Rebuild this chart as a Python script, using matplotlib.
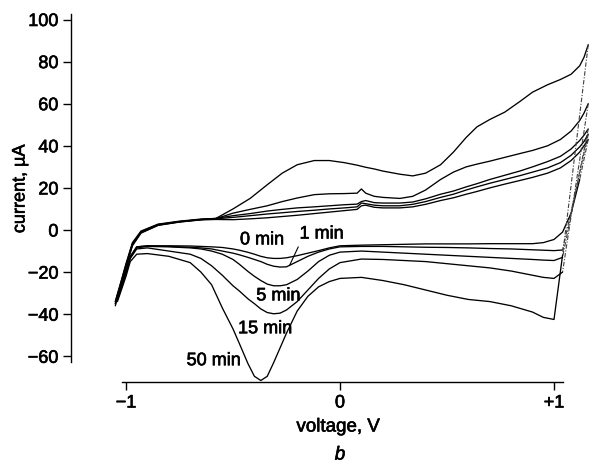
import numpy as np
import matplotlib
matplotlib.use("Agg")
import matplotlib.pyplot as plt
import matplotlib.patheffects as pe

plt.rcParams['font.family'] = ['Liberation Sans', 'DejaVu Sans']

# ---------------- data ----------------
# anodic (forward) scan voltages, V
v_anodic = [-1.05, -1.03, -1.0, -0.97, -0.93, -0.85, -0.75, -0.65, -0.58, -0.5,
            -0.42, -0.34, -0.27, -0.2, -0.12, -0.05, 0.02, 0.08, 0.1, 0.12,
            0.16, 0.2, 0.28, 0.34, 0.4, 0.47, 0.53, 0.59, 0.64, 0.7,
            0.77, 0.84, 0.9, 0.97, 1.03, 1.08, 1.12, 1.14, 1.16]

i_anodic_0min = [-35, -28, -17, -7, -1.2, 2.3, 3.8, 4.8, 5.0, 4.9,
                 5.3, 5.8, 6.4, 7.0, 7.8, 8.5, 9.2, 9.8, 11.5, 11.8,
                 10.8, 10.5, 10.5, 11.0, 12.2, 14.0, 15.3, 17.0, 18.3, 20.0,
                 21.8, 23.5, 25.0, 27.0, 29.5, 33.0, 37.0, 40.0, 43.0]
i_anodic_1min = [-34, -27, -16.5, -6.5, -0.8, 2.6, 4.0, 5.0, 5.3, 6.0,
                 6.8, 7.6, 8.2, 8.8, 9.4, 10.0, 10.5, 11.0, 12.8, 12.5,
                 11.8, 11.5, 11.5, 12.2, 13.5, 15.5, 17.0, 19.0, 20.5, 22.2,
                 24.0, 25.8, 27.5, 29.5, 32.0, 35.5, 39.5, 42.0, 45.5]
i_anodic_5min = [-34, -27, -16, -6, -0.5, 2.8, 4.2, 5.2, 5.5, 6.8,
                 7.8, 9.0, 9.8, 10.5, 11.0, 11.5, 12.0, 12.3, 13.5, 14.0,
                 13.0, 12.8, 12.8, 13.3, 14.8, 17.0, 18.5, 20.5, 22.0, 24.0,
                 26.0, 28.0, 30.0, 32.5, 35.0, 38.5, 42.5, 45.0, 48.0]
i_anodic_15min = [-35, -28, -17, -7, -1.0, 2.5, 4.0, 5.0, 5.4, 8.0,
                  9.8, 11.5, 13.5, 15.2, 16.8, 17.2, 17.3, 17.5, 19.5, 17.5,
                  16.0, 15.5, 15.0, 16.0, 19.0, 24.0, 27.5, 30.0, 31.3, 32.7,
                  34.5, 36.3, 37.8, 40.0, 43.0, 47.0, 52.0, 55.5, 60.0]
i_anodic_50min = [-36, -29, -17.5, -7.5, -1.5, 2.2, 3.8, 4.9, 5.5, 10.0,
                  15.0, 21.5, 27.0, 31.0, 33.0, 33.0, 32.0, 30.8, 30.3, 29.8,
                  29.0, 28.0, 26.5, 25.7, 27.0, 31.0, 37.0, 44.0, 49.0, 52.5,
                  56.0, 61.0, 65.5, 69.0, 71.5, 74.0, 78.0, 82.0, 88.0]

# cathodic (reverse) scan voltages, V
v_cathodic = [1.12, 1.08, 1.04, 1.0, 0.95, 0.9, 0.8, 0.7, 0.6, 0.5,
              0.4, 0.3, 0.2, 0.1, 0.0, -0.05, -0.1, -0.15, -0.2, -0.25,
              -0.28, -0.31, -0.34, -0.37, -0.4, -0.43, -0.47, -0.5, -0.55, -0.6,
              -0.65, -0.7, -0.8, -0.9, -0.95, -0.98, -1.0, -1.02, -1.04]

nan = float('nan')
i_cathodic_0min = [24, 8, -1, -4.5, -6, -6.5, -6.5, -6.5, -6.6, -6.6,
                   -6.6, -6.8, -7.0, -7.2, -7.5, -8.5, -9.8, -11, -12.2, -13.2,
                   -13.5, -13.5, -13.2, -12.5, -11.5, -10.6, -9.6, -9, -8.3, -8,
                   -7.8, -7.6, -7.5, -7.5, -8, -13, -20, -26, -32]
i_cathodic_1min = [nan, nan, -9.5, -9.8, -9.6, -9.4, -9.0, -8.8, -8.5, -8.3,
                   -8.2, -8.0, -7.8, -7.8, -8.0, -9.0, -10.5, -12.5, -15, -17.5,
                   -17.6, -17.2, -16.3, -15, -14, -13, -11.8, -11, -10, -9,
                   -8.5, -8.2, -7.8, -7.6, -8, -12.5, -19.5, -26, -32]
i_cathodic_5min = [nan, nan, -13, -14.5, -14.3, -14, -13.5, -13, -12.5, -12,
                   -11.5, -11, -10.5, -10, -10.5, -12, -15, -19.5, -23.5, -26,
                   -26.5, -26.5, -25.7, -24, -22, -19.7, -16.3, -14, -11.5, -10,
                   -9, -8.5, -8, -7.8, -8.5, -13, -20, -27, -33]
i_cathodic_15min = [nan, nan, -20, -23, -22.5, -21.5, -19.5, -18, -17, -16,
                    -15, -14.5, -14, -13.8, -15.5, -18.5, -23, -28.5, -34, -38,
                    -39.5, -39.8, -39.2, -37.5, -35, -32.7, -29, -26.5, -21.5, -17,
                    -13.5, -11.5, -10, -8.5, -9, -13.5, -20.5, -27, -33]
i_cathodic_50min = [nan, nan, -12, -42.5, -41.5, -39, -36, -34, -33, -31,
                    -28.5, -26, -24, -22.5, -23, -24.5, -27, -31.5, -38.5, -49,
                    -56, -63, -69.5, -71.5, -69.5, -63.5, -54, -47, -37, -26,
                    -20, -15.5, -12.5, -11.2, -11.5, -15, -22, -28, -34]

curve_names = ["0 min", "1 min", "5 min", "15 min", "50 min"]
anodic = [i_anodic_0min, i_anodic_1min, i_anodic_5min, i_anodic_15min, i_anodic_50min]
cathodic = [i_cathodic_0min, i_cathodic_1min, i_cathodic_5min, i_cathodic_15min, i_cathodic_50min]

x_ticks = [-1, 0, 1]
x_ticklabels = ["\u22121", "0", "+1"]
y_ticks = [-60, -40, -20, 0, 20, 40, 60, 80, 100]
y_ticklabels = ["\u221260", "\u221240", "\u221220", "0", "20", "40", "60", "80", "100"]

# label anchor positions (voltage, current)
label_pos = {"0 min": (-0.364, -4.7), "1 min": (-0.086, -1.9), "5 min": (-0.288, -31.3),
             "15 min": (-0.35, -46.9), "50 min": (-0.59, -62.1)}

# ---------------- figure ----------------
W, H = 589, 464
fig = plt.figure(figsize=(W / 100, H / 100), dpi=100)
ax_left, ax_right, ax_top, ax_bottom = 71, 589, 10, 383
ax = fig.add_axes([ax_left / W, (H - ax_bottom) / H,
                   (ax_right - ax_left) / W, (ax_bottom - ax_top) / H])

x0, sx = 340.0, 214.0
y0, sy = 231.0, 2.105
ax.set_xlim((ax_left - x0) / sx, (ax_right - x0) / sx)
ax.set_ylim((y0 - ax_bottom) / sy, (y0 - ax_top) / sy)

for ia, ic in zip(anodic, cathodic):
    ax.plot(v_anodic, ia, color='black', lw=0.95, clip_on=False,
            solid_joinstyle='round', solid_capstyle='round')
    ax.plot(v_cathodic, ic, color='black', lw=0.95, clip_on=False,
            solid_joinstyle='round', solid_capstyle='round')
    # reversal segment: last anodic point -> first valid cathodic point
    k = next(j for j, val in enumerate(ic) if not np.isnan(val))
    ax.plot([v_anodic[-1], v_cathodic[k]], [ia[-1], ic[k]], color='0.25', lw=0.8,
            ls=(0, (4, 1.5, 1, 1.5)), clip_on=False)

fs = 13
bold_fx = [pe.withStroke(linewidth=0.45, foreground='black')]
for name in curve_names:
    vx, iy = label_pos[name]
    ax.text(vx, iy, name, fontsize=fs, ha='center', va='center', path_effects=bold_fx)
# leader for "1 min"
ax.annotate("", xy=(-0.236, -16.9), xytext=(-0.195, -8.0),
            arrowprops=dict(arrowstyle='-', lw=0.8, color='black', shrinkA=0, shrinkB=0))

for s in ['top', 'right']:
    ax.spines[s].set_visible(False)
ax.spines['left'].set_bounds(-62.6, 102.5)
ax.spines['bottom'].set_bounds(-1.02, 1.04)
ax.spines['left'].set_linewidth(1.0)
ax.spines['bottom'].set_linewidth(1.0)

ax.set_xticks(x_ticks)
ax.set_xticklabels(x_ticklabels)
ax.set_yticks(y_ticks)
ax.set_yticklabels(y_ticklabels)
ax.tick_params(direction='out', length=6, width=1.0, pad=3, labelsize=fs)
for lab in ax.get_xticklabels() + ax.get_yticklabels():
    lab.set_path_effects(bold_fx)
ax.patch.set_alpha(0)

fig.text(20 / W, 1 - 190 / H, "current, \u00b5A", rotation=90, fontsize=fs,
         ha='center', va='center', path_effects=bold_fx)
fig.text(338 / W, 1 - 428 / H, "voltage, V", fontsize=fs + 0.5, ha='center', va='center',
         path_effects=bold_fx)
fig.text(340 / W, 1 - 456 / H, "b", fontsize=fs + 0.5, style='italic', ha='center',
         va='center', path_effects=bold_fx)

fig.savefig("out.png", dpi=100)
